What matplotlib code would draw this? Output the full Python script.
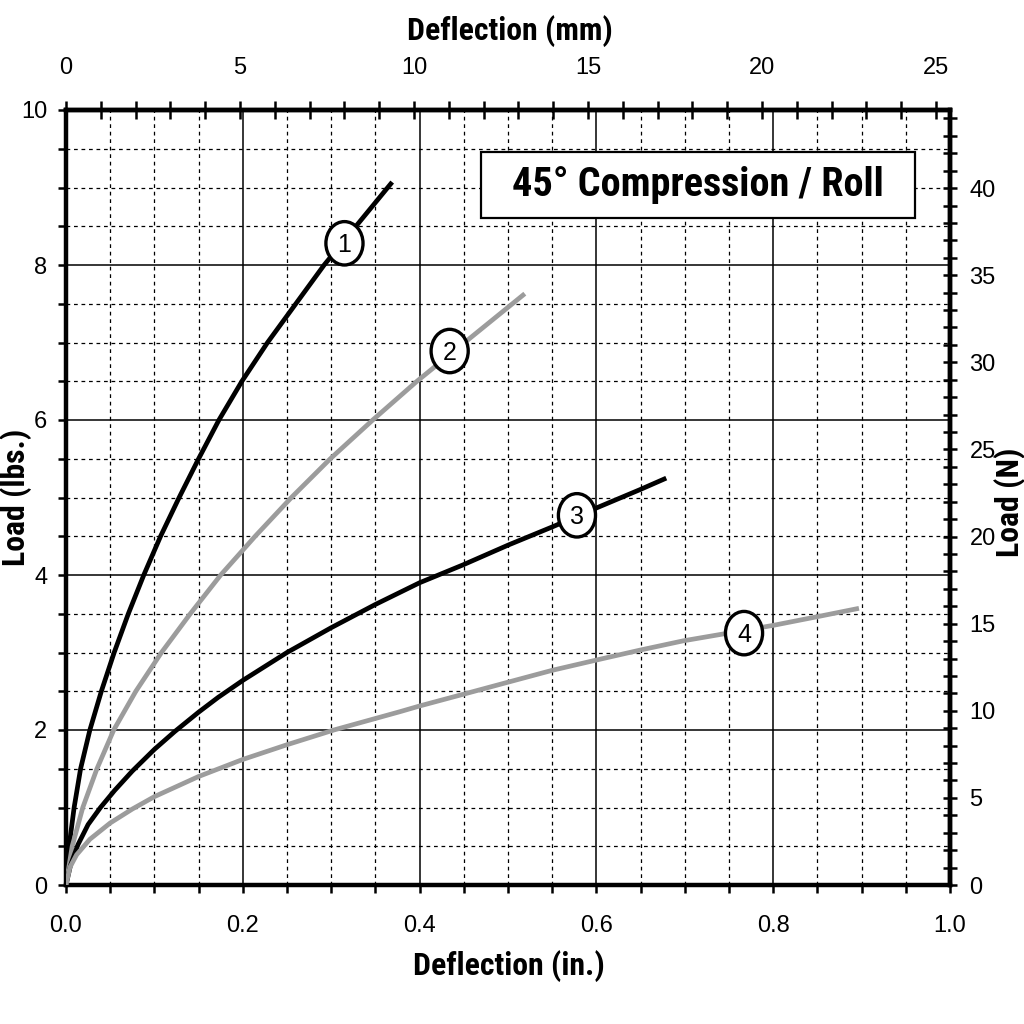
import numpy as np
import matplotlib
matplotlib.use("Agg")
import matplotlib.pyplot as plt
from matplotlib import font_manager
from matplotlib.patches import Ellipse, Rectangle
from matplotlib.ticker import MultipleLocator

# ticks are a plain Arial-like face; title and axis titles a narrow bold one
_names = {f.name for f in font_manager.fontManager.ttflist}
NARROW = next((n for n in ["Liberation Sans Narrow", "Arial Narrow", "Roboto Condensed"]
               if n in _names), "Liberation Sans")
plt.rcParams["font.family"] = ["Liberation Sans", "DejaVu Sans"]
BOLD_FAMILY = [NARROW, "DejaVu Sans"]

# curve data: deflection (in.) vs load (lbs.)
c1_x = [0, 0.0035, 0.0092, 0.0165, 0.027, 0.040, 0.0545, 0.0705, 0.088, 0.107,
        0.128, 0.150, 0.173, 0.199, 0.228, 0.292, 0.369]
c1_y = [0, 0.5, 1.0, 1.5, 2.0, 2.5, 3.0, 3.5, 4.0, 4.5,
        5.0, 5.5, 6.0, 6.5, 7.0, 8.0, 9.07]

c2_x = [0, 0.007, 0.019, 0.035, 0.054, 0.079, 0.108, 0.1406, 0.175, 0.214,
        0.255, 0.299, 0.347, 0.397, 0.519]
c2_y = [0, 0.5, 1.0, 1.5, 2.0, 2.5, 3.0, 3.5, 4.0, 4.5,
        5.0, 5.5, 6.0, 6.5, 7.63]

c3_x = [0, 0.005, 0.0135, 0.025, 0.039, 0.055, 0.075, 0.100, 0.123, 0.150,
        0.172, 0.200, 0.250, 0.300, 0.350, 0.400, 0.449, 0.501, 0.550, 0.599,
        0.649, 0.679]
c3_y = [0, 0.25, 0.52, 0.78, 1.0, 1.22, 1.47, 1.75, 1.98, 2.23,
        2.42, 2.64, 3.0, 3.32, 3.62, 3.90, 4.13, 4.39, 4.62, 4.86,
        5.10, 5.25]

c4_x = [0, 0.0045, 0.012, 0.027, 0.050, 0.075, 0.100, 0.150, 0.200, 0.250,
        0.303, 0.378, 0.400, 0.449, 0.501, 0.550, 0.599, 0.649, 0.698, 0.800,
        0.849, 0.897]
c4_y = [0, 0.23, 0.39, 0.59, 0.80, 0.98, 1.14, 1.40, 1.62, 1.81,
        2.0, 2.237, 2.31, 2.46, 2.62, 2.77, 2.90, 3.03, 3.15, 3.35,
        3.46, 3.57]

curve_colors = ["black", "#9c9c9c", "black", "#9c9c9c"]
label_text = ["1", "2", "3", "4"]
label_x = [0.315, 0.434, 0.578, 0.767]
label_y = [8.28, 6.89, 4.77, 3.25]

title = "45\u00b0 Compression / Roll"
IN2MM, LB2N = 25.4, 4.44822


def fit_width(txt, target_px, renderer):
    """Scale a text's font size so its drawn width matches the reference width."""
    w = txt.get_window_extent(renderer).width
    txt.set_fontsize(txt.get_fontsize() * target_px / w)
    return txt.get_fontsize()


fig = plt.figure(figsize=(10.24, 10.24), dpi=100)
renderer = fig.canvas.get_renderer()

# tick label size: "0.0" is about 33 px wide in the reference
probe = fig.text(0, 0, "0.0", fontsize=18)
TICK_FS = fit_width(probe, 33, renderer)
probe.remove()

ax = fig.add_axes([66 / 1024, 1 - 885 / 1024, 884 / 1024, 775 / 1024])
ax.set_xlim(0, 1.0)
ax.set_ylim(0, 10)

ax.set_xticks(np.arange(0, 1.01, 0.2))
ax.xaxis.set_minor_locator(MultipleLocator(0.05))
ax.set_yticks(np.arange(0, 10.1, 2))
ax.yaxis.set_minor_locator(MultipleLocator(0.5))
ax.xaxis.set_major_formatter(lambda v, p: f"{v:.1f}")
ax.yaxis.set_major_formatter(lambda v, p: f"{v:.0f}")

ax.grid(which="major", color="black", lw=1.1, ls="-", zorder=0)
ax.grid(which="minor", color="black", lw=0.9, ls=(0, (3, 3)), zorder=0)
ax.set_axisbelow(True)

ax.tick_params(which="both", direction="out", length=5.5, width=1.8, labelsize=TICK_FS)
ax.tick_params(axis="x", which="major", pad=16)
ax.tick_params(axis="y", which="major", pad=8)
ax.tick_params(top=False, right=False)
for s in ax.spines.values():
    s.set_linewidth(3.2)

for xs, ys, col in zip([c1_x, c2_x, c3_x, c4_x], [c1_y, c2_y, c3_y, c4_y], curve_colors):
    ax.plot(xs, ys, color=col, lw=3.4, solid_capstyle="butt", solid_joinstyle="round", zorder=3)

for t, lx, ly in zip(label_text, label_x, label_y):
    ax.add_patch(Ellipse((lx, ly), 0.042, 0.56, facecolor="white",
                         edgecolor="black", lw=2.4, zorder=4))
    ax.text(lx, ly - 0.02, t, ha="center", va="center", fontsize=TICK_FS + 1, zorder=5)

# title box
ax.add_patch(Rectangle((0.4696, 8.61), 0.4904, 0.85, facecolor="white",
                       edgecolor="black", lw=1.6, zorder=4))
title_txt = ax.text(0.715, 9.035, title, ha="center", va="center", fontsize=30,
                    fontweight="bold", family=BOLD_FAMILY, zorder=5)

# secondary scales: mm on top, newtons on the right
top = ax.secondary_xaxis("top", functions=(lambda v: v * IN2MM, lambda v: v / IN2MM))
top.set_xticks(np.arange(0, 26, 5))
top.xaxis.set_minor_locator(MultipleLocator(1))
top.tick_params(which="both", direction="inout", length=13, width=1.8,
                labelsize=TICK_FS, pad=16)
top.spines["top"].set_linewidth(3.2)

right = ax.secondary_yaxis("right", functions=(lambda v: v * LB2N, lambda v: v / LB2N))
right.set_yticks(np.arange(0, 41, 5))
right.yaxis.set_minor_locator(MultipleLocator(1))
right.tick_params(which="both", direction="inout", length=10, width=1.8,
                  labelsize=TICK_FS, pad=9)
right.spines["right"].set_linewidth(3.2)

lab = dict(fontsize=24, fontweight="bold", ha="center", va="center", family=BOLD_FAMILY)
xlab = fig.text(509 / 1024, 1 - 966 / 1024, "Deflection (in.)", **lab)
tlab = fig.text(510 / 1024, 1 - 31 / 1024, "Deflection (mm)", **lab)
ylab = fig.text(16 / 1024, 1 - 497 / 1024, "Load (lbs.)", rotation=90, **lab)
rlab = fig.text(1010 / 1024, 1 - 502 / 1024, "Load (N)", rotation=90, **lab)

# match text widths to the reference
fit_width(title_txt, 372, renderer)
lab_fs = fit_width(xlab, 192, renderer)
for t in (tlab, ylab, rlab):
    t.set_fontsize(lab_fs)

fig.savefig("out.png", dpi=100, facecolor="white")
